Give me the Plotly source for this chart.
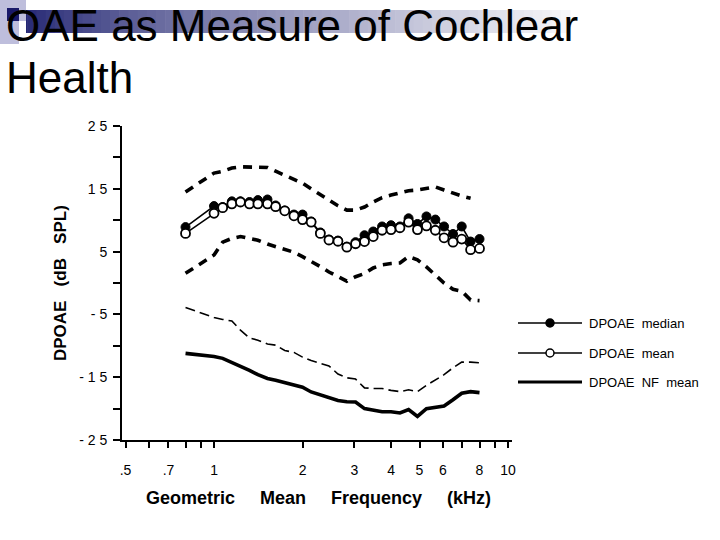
import plotly.graph_objects as go
import math

# ---------------- data ----------------
freq_khz = [0.80, 1.00, 1.07, 1.15, 1.23, 1.32, 1.41, 1.52, 1.62, 1.74, 1.87,
            2.00, 2.14, 2.30, 2.46, 2.64, 2.83, 3.03, 3.25, 3.48, 3.73,
            4.00, 4.29, 4.59, 4.92, 5.28, 5.66, 6.06, 6.50, 6.96, 7.46, 8.00]

dpoae_median = [8.9, 12.25, 12.1, 13.0, 13.0, 12.9, 13.2, 13.3, 12.35, 11.55, 10.9,
                10.9, 9.8, 8.05, 6.9, 6.75, 5.8, 6.5, 7.6, 8.2, 9.0,
                9.2, 9.0, 10.3, 9.4, 10.6, 10.1, 9.0, 7.8, 9.0, 6.6, 7.0]

dpoae_mean = [7.9, 11.1, 12.0, 12.6, 12.9, 12.6, 12.6, 12.6, 12.15, 11.5, 10.7,
              10.1, 9.7, 7.9, 6.85, 6.65, 5.7, 6.25, 6.6, 7.4, 8.4,
              8.5, 8.8, 9.7, 8.5, 9.1, 8.4, 7.2, 6.5, 7.0, 5.3, 5.5]

upper_band = [14.5, 17.5, 17.8, 18.3, 18.5, 18.5, 18.5, 18.4, 17.8, 17.2, 16.6,
              15.9, 15.0, 14.0, 13.2, 12.3, 11.6, 11.6, 12.1, 12.9, 13.6,
              14.0, 14.4, 14.7, 14.8, 15.0, 15.3, 14.8, 14.25, 13.85, 13.5, None]

lower_band = [1.55, 4.45, 6.5, 7.1, 7.4, 7.1, 6.8, 6.2, 5.8, 5.4, 4.9,
              4.2, 3.5, 2.6, 1.75, 1.0, 0.3, 1.0, 1.5, 2.4, 2.9,
              3.1, 3.2, 4.2, 3.7, 2.55, 1.3, 0.0, -1.0, -1.3, -2.7, -2.8]

nf_upper = [-3.9, -5.5, -5.8, -6.05, -7.5, -8.75, -9.1, -9.7, -9.9, -10.75, -11.05,
            -11.8, -12.35, -12.8, -13.2, -14.5, -15.1, -15.3, -16.7, -16.8, -16.8,
            -17.1, -17.3, -17.0, -17.3, -16.3, -15.45, -14.6, -13.5, -12.6, -12.6, -12.7]

nf_mean = [-11.2, -11.7, -12.0, -12.6, -13.2, -13.9, -14.6, -15.2, -15.5, -15.85, -16.15,
           -16.6, -17.35, -17.8, -18.2, -18.7, -18.9, -18.95, -20.0, -20.3, -20.5,
           -20.5, -20.7, -20.15, -21.25, -20.0, -19.8, -19.6, -18.6, -17.55, -17.3, -17.45]

x_tick_vals = [0.5, 0.6, 0.7, 0.8, 0.9, 1, 2, 3, 4, 5, 6, 7, 8, 9, 10]
x_tick_text = [".5", "", ".7", "", "", "1", "2", "3", "4", "5", "6", "", "8", "", "10"]
y_tick_vals = [25, 20, 15, 10, 5, 0, -5, -10, -15, -20, -25]
y_tick_text = ["2 5", "", "1 5", "", "5", "", "- 5", "", "- 1 5", "", "- 2 5"]

legend_labels = ["DPOAE  median", "DPOAE  mean", "DPOAE  NF  mean"]

# ---------------- layout geometry (pixels) ----------------
W, H = 720, 540
L, R, T, B = 122, 512, 126, 440
FONT = "Liberation Sans, Arial, Helvetica, sans-serif"


def px(x):
    return (x - L) / (R - L)


def py(y):
    return (B - y) / (B - T)


fig = go.Figure()

band_line = dict(color="black", width=3.6, dash="9px,7px")
fig.add_trace(go.Scatter(x=freq_khz, y=upper_band, mode="lines", line=band_line,
                         showlegend=False, hoverinfo="skip", connectgaps=False))
fig.add_trace(go.Scatter(x=freq_khz, y=lower_band, mode="lines", line=band_line,
                         showlegend=False, hoverinfo="skip"))
fig.add_trace(go.Scatter(x=freq_khz, y=nf_upper, mode="lines",
                         line=dict(color="black", width=1.6, dash="10px,5px"),
                         showlegend=False, hoverinfo="skip"))
fig.add_trace(go.Scatter(x=freq_khz, y=nf_mean, mode="lines",
                         line=dict(color="black", width=3.6),
                         showlegend=False))
fig.add_trace(go.Scatter(x=freq_khz, y=dpoae_median, mode="lines+markers",
                         line=dict(color="black", width=1.6),
                         marker=dict(symbol="circle", size=9, color="black",
                                     line=dict(color="black", width=1)),
                         showlegend=False))
fig.add_trace(go.Scatter(x=freq_khz, y=dpoae_mean, mode="lines+markers",
                         line=dict(color="black", width=1.6),
                         marker=dict(symbol="circle", size=9, color="white",
                                     line=dict(color="black", width=1.8)),
                         showlegend=False))

shapes = []
annotations = []

# decorative title bar (gradient approximated with stepped rectangles)
bar_x0, bar_x1, bar_y0, bar_y1 = 18, 570, 10, 33
c0 = (35, 38, 115)
c1 = (246, 246, 249)
nsteps = 60
for i in range(nsteps):
    t = i / (nsteps - 1)
    tt = t ** 0.8
    col = tuple(int(c0[k] + (c1[k] - c0[k]) * tt) for k in range(3))
    xa = bar_x0 + (bar_x1 - bar_x0) * i / nsteps
    xb = bar_x0 + (bar_x1 - bar_x0) * (i + 1) / nsteps + 0.6
    shapes.append(dict(type="rect", xref="paper", yref="paper",
                       x0=px(xa), x1=px(xb), y0=py(bar_y1), y1=py(bar_y0),
                       fillcolor="rgb(%d,%d,%d)" % col, line=dict(width=0), layer="below"))
# bullet icon
shapes.append(dict(type="rect", xref="paper", yref="paper", x0=px(0), x1=px(26),
                   y0=py(44), y1=py(0), fillcolor="rgb(190,190,220)", line=dict(width=0),
                   layer="below"))
shapes.append(dict(type="rect", xref="paper", yref="paper", x0=px(7), x1=px(19),
                   y0=py(21), y1=py(8), fillcolor="rgb(25,25,105)", line=dict(width=0),
                   layer="below"))
shapes.append(dict(type="rect", xref="paper", yref="paper", x0=px(19), x1=px(26),
                   y0=py(44), y1=py(21), fillcolor="white", line=dict(width=0),
                   layer="below"))

# title
annotations.append(dict(text="OAE as Measure of Cochlear", xref="paper", yref="paper",
                        x=px(5), y=py(0), xanchor="left", yanchor="top", showarrow=False,
                        borderpad=0,
                        font=dict(family=FONT, size=44, color="black")))
annotations.append(dict(text="Health", xref="paper", yref="paper",
                        x=px(5), y=py(52), xanchor="left", yanchor="top", showarrow=False,
                        borderpad=0,
                        font=dict(family=FONT, size=44, color="black")))

# axis titles
annotations.append(dict(text="<b>DPOAE\u00a0\u00a0\u00a0(dB\u00a0\u00a0\u00a0SPL)</b>", xref="paper",
                        yref="paper", x=px(60), y=py(283), textangle=-90, showarrow=False,
                        xanchor="center", yanchor="middle",
                        font=dict(family=FONT, size=17, color="black")))
annotations.append(dict(text="<b>Geometric\u00a0\u00a0\u00a0\u00a0\u00a0Mean\u00a0\u00a0\u00a0\u00a0\u00a0Frequency\u00a0\u00a0\u00a0\u00a0\u00a0(kHz)</b>",
                        xref="paper", yref="paper", x=px(318), y=py(498), showarrow=False,
                        xanchor="center", yanchor="middle",
                        font=dict(family=FONT, size=18, color="black")))

# legend (drawn manually)
leg_rows = [323, 353, 382]
for i, (lab, yy) in enumerate(zip(legend_labels, leg_rows)):
    w = 3.2 if i == 2 else 1.4
    shapes.append(dict(type="line", xref="paper", yref="paper", x0=px(518), x1=px(582),
                       y0=py(yy), y1=py(yy), line=dict(color="black", width=w)))
    if i < 2:
        shapes.append(dict(type="circle", xref="paper", yref="paper",
                           x0=px(546), x1=px(554), y0=py(yy + 4), y1=py(yy - 4),
                           fillcolor="black" if i == 0 else "white",
                           line=dict(color="black", width=1.5)))
    annotations.append(dict(text=lab.replace("  ", "\u00a0\u00a0"), xref="paper", yref="paper",
                            x=px(587), y=py(yy), xanchor="left", yanchor="middle",
                            showarrow=False, font=dict(family=FONT, size=13, color="black")))

fig.update_layout(
    width=W, height=H,
    margin=dict(l=L, r=W - R, t=T, b=H - B),
    paper_bgcolor="white", plot_bgcolor="white",
    shapes=shapes, annotations=annotations,
    showlegend=False,
    xaxis=dict(type="log", range=[math.log10(0.5) - 0.012, 1.0136],
               tickvals=x_tick_vals, ticktext=x_tick_text,
               showgrid=False, zeroline=False, showline=True, linecolor="black",
               linewidth=2, ticks="outside", ticklen=6, tickwidth=2, tickcolor="black",
               ticklabelstandoff=10,
               tickfont=dict(family=FONT, size=14, color="black")),
    yaxis=dict(range=[-25, 25], tickvals=y_tick_vals, ticktext=y_tick_text,
               showgrid=False, zeroline=False, showline=True, linecolor="black",
               linewidth=2, ticks="outside", ticklen=7, tickwidth=2, tickcolor="black",
               ticklabelstandoff=3,
               tickfont=dict(family=FONT, size=14, color="black")),
)

fig.write_html("out.html")
